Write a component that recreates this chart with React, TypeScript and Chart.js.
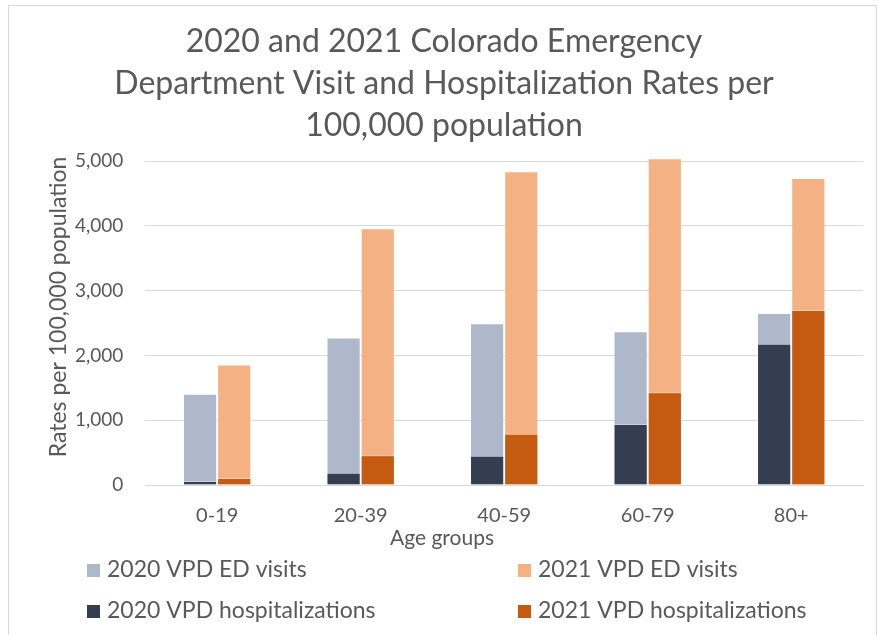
import React, { useEffect, useRef } from 'react';
import { Chart, registerables } from 'chart.js';

Chart.register(...registerables);

const ageGroups = ['0-19', '20-39', '40-59', '60-79', '80+'];
const ed2020 = [1407, 2278, 2495, 2371, 2654];
const ed2021 = [1860, 3964, 4841, 5042, 4737];
const hosp2020 = [62, 190, 453, 943, 2181];
const hosp2021 = [108, 458, 789, 1432, 2700];
const seriesLabels = [
  '2020 VPD ED visits',
  '2021 VPD ED visits',
  '2020 VPD hospitalizations',
  '2021 VPD hospitalizations',
];
const titleLines = [
  '2020 and 2021 Colorado Emergency',
  'Department Visit and Hospitalization Rates per',
  '100,000 population',
];
const yAxisTitle = 'Rates per 100,000 population';
const xAxisTitle = 'Age groups';

const TEXT = '#595959';
const FONT = 'Lato';

// Title, 2x2 legend and axis titles placed as in the original Excel chart
const chartDecor = {
  id: 'chartDecor',
  afterDraw(chart: any) {
    const ctx = chart.ctx;
    ctx.save();
    ctx.fillStyle = TEXT;
    ctx.textAlign = 'center';
    ctx.textBaseline = 'middle';
    ctx.font = `32px ${FONT}`;
    titleLines.forEach((line, i) => ctx.fillText(line, 444, 42 + i * 42));

    const cols = [87, 518];
    const rows = [570, 611];
    chart.data.datasets.forEach((d: any, i: number) => {
      const x = cols[i % 2];
      const y = rows[Math.floor(i / 2)];
      ctx.fillStyle = d.backgroundColor;
      ctx.fillRect(x, y - 6, 13, 13);
      ctx.fillStyle = TEXT;
      ctx.font = `23px ${FONT}`;
      ctx.textAlign = 'left';
      ctx.fillText(d.label, x + 20, y);
    });
    // x axis title
    ctx.fillStyle = TEXT;
    ctx.font = `21px ${FONT}`;
    ctx.textAlign = 'center';
    ctx.fillText(xAxisTitle, 442, 538);
    // y axis title
    ctx.translate(59, 307);
    ctx.rotate(-Math.PI / 2);
    ctx.font = `23px ${FONT}`;
    ctx.fillText(yAxisTitle, 0, 0);
    ctx.restore();
  },
};

export default function App() {
  const ref = useRef<HTMLCanvasElement>(null);
  useEffect(() => {
    if (!ref.current) return;
    const chart = new Chart(ref.current, {
      type: 'bar',
      data: {
        labels: ageGroups,
        datasets: [
          { label: seriesLabels[0], data: ed2020, backgroundColor: '#ADB9CA', stack: '2020', order: 1 },
          { label: seriesLabels[1], data: ed2021, backgroundColor: '#F4B183', stack: '2021', order: 1 },
          { label: seriesLabels[2], data: hosp2020, backgroundColor: '#333F50', stack: '2020', order: 0 },
          { label: seriesLabels[3], data: hosp2021, backgroundColor: '#C55A11', stack: '2021', order: 0 },
        ].map((d) => ({
          ...d,
          borderColor: 'rgba(255,255,255,0.35)',
          borderWidth: 1,
          barPercentage: 1,
          categoryPercentage: 0.476,
          clip: false as any,
        })),
      },
      options: {
        responsive: false,
        animation: false,
        layout: { padding: { top: 161, left: 53, right: 19, bottom: 88 } },
        plugins: {
          legend: { display: false },
          tooltip: { enabled: false },
          title: { display: false },
        },
        scales: {
          x: {
            grid: { display: false, drawTicks: false },
            border: { display: true, color: '#D9D9D9' },
            ticks: { color: TEXT, font: { family: FONT, size: 20 }, padding: 19 },
          },
          y: {
            stacked: false,
            min: 0,
            max: 5000,
            ticks: {
              stepSize: 1000,
              color: TEXT,
              font: { family: FONT, size: 19 },
              padding: 22,
              callback: (v: any) => Number(v).toLocaleString('en-US'),
            },
            grid: { color: '#D9D9D9', lineWidth: 1, drawTicks: false },
            border: { display: false },
          },
        },
      },
      plugins: [chartDecor],
    });
    return () => chart.destroy();
  }, []);

  return (
    <div style={{ position: 'fixed', left: 0, top: 0, width: 882, height: 635, background: '#fff', overflow: 'hidden' }}>
      <canvas ref={ref} width={882} height={635} style={{ position: 'absolute', left: 0, top: 0 }} />
      <div
        style={{
          position: 'absolute',
          left: 8,
          top: 5,
          width: 869,
          height: 640,
          border: '1px solid #D9D9D9',
          boxSizing: 'border-box',
          pointerEvents: 'none',
        }}
      />
    </div>
  );
}
